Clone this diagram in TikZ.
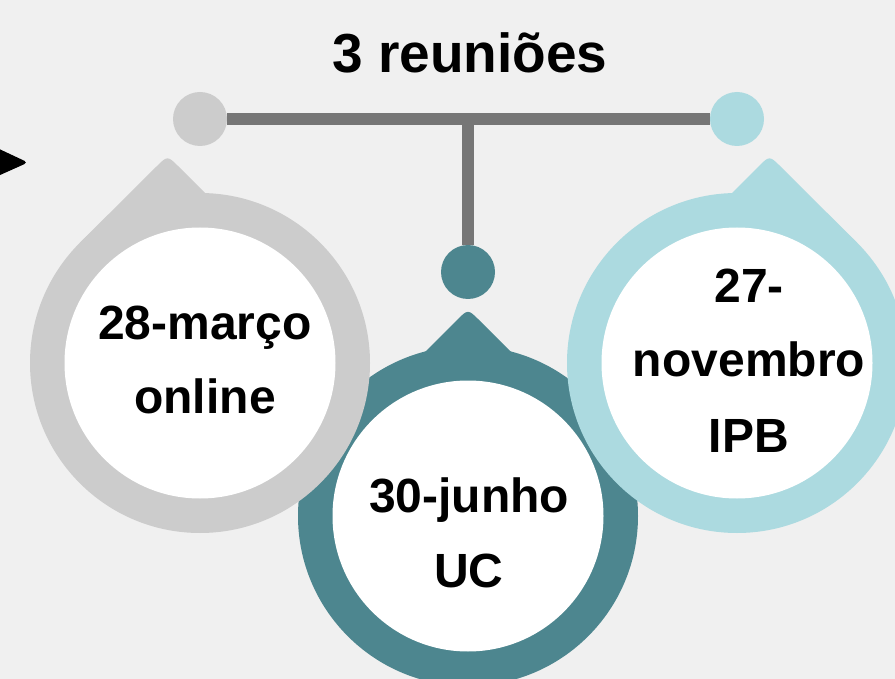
\documentclass[tikz,border=0pt]{standalone}
\usepackage{fontspec}
\setmainfont{Liberation Sans}
\definecolor{bgc}{HTML}{F0F0F0}
\definecolor{greyc}{HTML}{CCCCCC}
\definecolor{tealc}{HTML}{4D868F}
\definecolor{bluec}{HTML}{ACDAE0}
\definecolor{linec}{HTML}{767676}
\begin{document}
\begin{tikzpicture}[x=1pt,y=-1pt,
  lbl/.style={anchor=base,inner sep=0pt,font=\fontsize{48}{56}\selectfont\bfseries},
  conn/.style={draw=linec,line width=12pt},
  dot/.style={circle,minimum size=54pt,inner sep=0pt}]
\useasboundingbox (0,0) rectangle (895,679);
\fill[bgc] (0,0) rectangle (895,679);
% connectors
\node[dot,fill=greyc] (d1) at (200,119) {};
\node[dot,fill=bluec] (d3) at (737,119) {};
\node[dot,fill=tealc] (d2) at (468,272) {};
\coordinate (mid) at (468,119);
\draw[conn] (d1.east) -- (d3.west);
\draw[conn] (mid) -- (d2.north);
% teal drop
\fill[tealc] (468,516) circle[radius=170pt];
\fill[tealc] (468,516) -- (407,370) -- (456.7,320.3) .. controls (468,309) .. (479.3,320.3) -- (529,370) -- cycle;
\fill[white] (468,516) circle[radius=135.5pt];
% grey drop
\fill[greyc] (200,363) circle[radius=170pt];
\fill[greyc] (200,363) -- (79.8,242.8) -- (156.2,166.8) .. controls (167.5,155.5) .. (178.8,166.8) -- (227,215) -- cycle;
\fill[white] (200,363) circle[radius=135.5pt];
% blue drop
\fill[bluec] (737,363) circle[radius=170pt];
\fill[bluec] (737,363) -- (712,213) -- (758.2,166.8) .. controls (769.5,155.5) .. (780.8,166.8) -- (857.2,242.8) -- cycle;
\fill[white] (737,363) circle[radius=135.5pt];
% texts
\node[lbl] (g1) at (205,339) {28-março};
\node[lbl] (g2) at (205,413) {online};
\node[lbl] (t1) at (469,512) {30-junho};
\node[lbl] (t2) at (469,587) {UC};
\node[lbl] (b1) at (749,302) {27-};
\node[lbl] (b2) at (749,376) {novembro};
\node[lbl] (b3) at (749,452) {IPB};
\node[anchor=base,inner sep=0pt,font=\fontsize{55}{60}\selectfont\bfseries] (title) at (470,73) {3 reuniões};
% arrow fragment
\fill[black,rounded corners=4pt] (-20,140) -- (28,162.5) -- (-20,184) -- cycle;
\end{tikzpicture}
\end{document}
